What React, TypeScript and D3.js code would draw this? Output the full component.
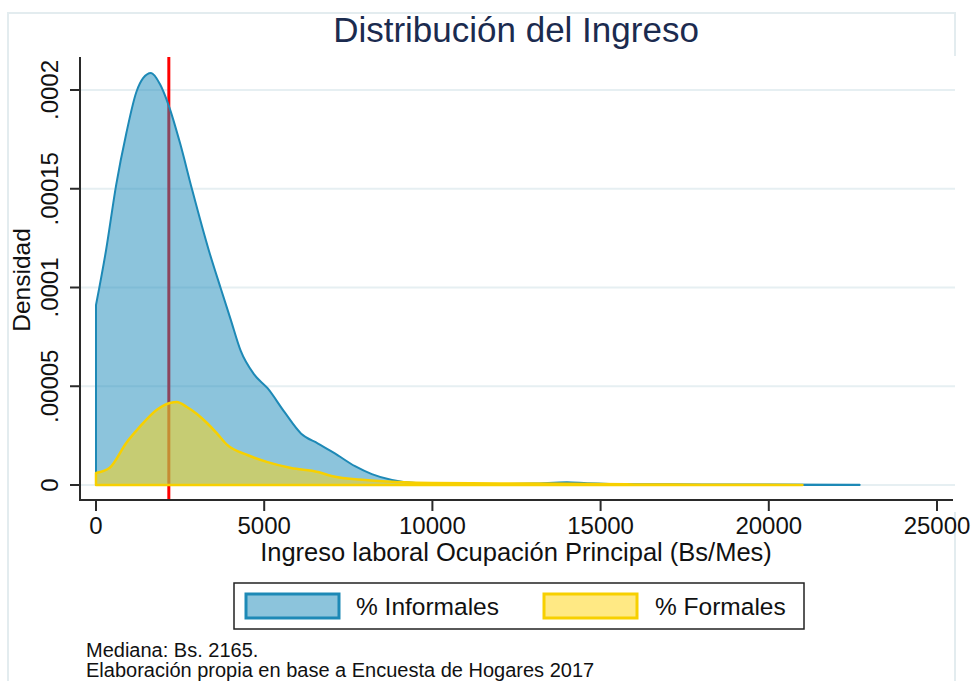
import React from "react";
import * as d3 from "d3";

// income grid (Bs/Mes) and density readings for each group
const informalIncome = [0, 300, 600, 900, 1200, 1400, 1635, 1900, 2165, 2500, 2850, 3350, 3700, 4000, 4300, 4700, 5100, 5600, 6100, 6600, 7100, 7700, 8200, 8800, 9500, 10500, 12000, 13000, 14000, 14600, 16000, 18000, 20000, 22700];
const informalDensity = [0.0000911, 0.000119, 0.000152, 0.000178, 0.000199, 0.000206, 0.0002086, 0.000203, 0.000192, 0.000173, 0.00015, 0.000119, 0.0001, 0.000084, 0.000068, 0.000056, 0.000049, 0.000037, 0.000026, 0.000021, 0.000016, 0.0000095, 0.0000055, 0.0000025, 0.000001, 0.0000006, 0.0000005, 0.0000007, 0.0000014, 0.0000009, 0.0000004, 0.0000003, 0.0000002, 0.0000001];

const formalIncome = [0, 400, 900, 1300, 1800, 2200, 2400, 2700, 3000, 3300, 3600, 3900, 4500, 5100, 5800, 6600, 7000, 8000, 9000, 10000, 12000, 14000, 16000, 18000, 21000];
const formalDensity = [0.0000061, 0.0000086, 0.0000213, 0.0000294, 0.000038, 0.0000415, 0.000042, 0.0000395, 0.000036, 0.0000314, 0.000026, 0.0000203, 0.0000152, 0.0000116, 0.0000086, 0.0000066, 0.0000046, 0.0000025, 0.0000015, 0.000001, 0.0000008, 0.0000006, 0.0000003, 0.00000015, 0.00000005];

const xTicks = [0, 5000, 10000, 15000, 20000, 25000];
const yTicks = [0, 0.00005, 0.0001, 0.00015, 0.0002];
const yTickLabels = ["0", ".00005", ".0001", ".00015", ".0002"];
const median = 2165;

const seriesNames = ["% Informales", "% Formales"];

const font = "'Liberation Sans', Arial, sans-serif";

export default function App() {
  const width = 974;
  const height = 681;

  const x = d3.scaleLinear().domain([0, 25000]).range([96, 937]);
  const y = d3.scaleLinear().domain([0, 0.0002]).range([485, 90]);

  const plotTop = 57;
  const axisY = 500;
  const axisX = 80;

  const area = d3
    .area<[number, number]>()
    .x((d) => x(d[0]))
    .y0(y(0))
    .y1((d) => y(d[1]))
    .curve(d3.curveMonotoneX);

  const informal = informalIncome.map((v, i) => [v, informalDensity[i]] as [number, number]);
  const formal = formalIncome.map((v, i) => [v, formalDensity[i]] as [number, number]);

  const blueStroke = "#1d89b6";
  const blueFill = "rgba(26,138,185,0.5)";
  const yellowStroke = "#f7d000";
  const yellowFill = "rgba(255,211,10,0.5)";

  return (
    <svg
      width={width}
      height={height}
      style={{ position: "absolute", left: 0, top: 0, background: "#fff" }}
      fontFamily={font}
    >
      {/* outer frame, hidden behind the plot region on the right */}
      <rect x={8} y={13} width={947} height={700} fill="none" stroke="#e3ecef" strokeWidth={2} />
      <rect x={60} y={56} width={904} height={456} fill="#fff" />

      <text x={516} y={42} textAnchor="middle" fontSize={35} fill="#1b2b4f">
        Distribución del Ingreso
      </text>

      {/* gridlines */}
      {yTicks.map((t) => (
        <line key={t} x1={axisX} x2={955} y1={y(t)} y2={y(t)} stroke="#e6eff2" strokeWidth={2} />
      ))}

      {/* median line, under the fills */}
      <line x1={x(median)} x2={x(median)} y1={plotTop} y2={axisY} stroke="#ff0000" strokeWidth={3} />

      <path d={area(informal) ?? ""} fill={blueFill} stroke={blueStroke} strokeWidth={2} strokeLinejoin="round" />
      <path d={area(formal) ?? ""} fill={yellowFill} stroke={yellowStroke} strokeWidth={2.5} strokeLinejoin="round" />

      {/* y axis */}
      <line x1={axisX} x2={axisX} y1={plotTop} y2={axisY + 1} stroke="#2a2a2a" strokeWidth={2} />
      {yTicks.map((t, i) => (
        <g key={t}>
          <line x1={70} x2={axisX} y1={y(t)} y2={y(t)} stroke="#2a2a2a" strokeWidth={2} />
          <text
            transform={`translate(58,${y(t)}) rotate(-90)`}
            textAnchor="middle"
            fontSize={24}
            fill="#111"
          >
            {yTickLabels[i]}
          </text>
        </g>
      ))}
      <text transform="translate(30,280) rotate(-90)" textAnchor="middle" fontSize={24.5} fill="#111">
        Densidad
      </text>

      {/* x axis */}
      <line x1={axisX - 1} x2={953} y1={axisY} y2={axisY} stroke="#2a2a2a" strokeWidth={2} />
      {xTicks.map((t) => (
        <g key={t}>
          <line x1={x(t)} x2={x(t)} y1={axisY} y2={axisY + 11} stroke="#2a2a2a" strokeWidth={2} />
          <text x={x(t)} y={534} textAnchor="middle" fontSize={24} fill="#111">
            {t}
          </text>
        </g>
      ))}
      <text x={516} y={561} textAnchor="middle" fontSize={25.5} fill="#111">
        Ingreso laboral Ocupación Principal (Bs/Mes)
      </text>

      {/* legend */}
      <rect x={234} y={583} width={570} height={46} fill="#fff" stroke="#222" strokeWidth={1.5} />
      <rect x={246} y={594} width={93} height={24} fill={blueFill} stroke={blueStroke} strokeWidth={3} />
      <text x={356} y={615} fontSize={24.5} fill="#111">
        {seriesNames[0]}
      </text>
      <rect x={544} y={594} width={93} height={24} fill={yellowFill} stroke={yellowStroke} strokeWidth={3} />
      <text x={655} y={615} fontSize={24.5} fill="#111">
        {seriesNames[1]}
      </text>

      {/* notes */}
      <text x={86} y={657} fontSize={20} fill="#111">
        Mediana: Bs. 2165.
      </text>
      <text x={86} y={677} fontSize={20} fill="#111">
        Elaboración propia en base a Encuesta de Hogares 2017
      </text>
    </svg>
  );
}
